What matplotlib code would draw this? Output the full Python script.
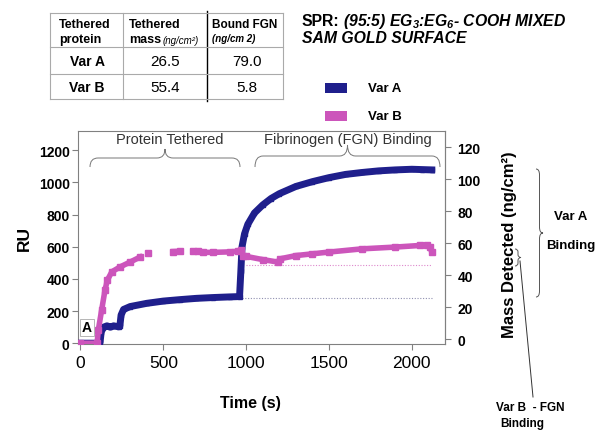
import numpy as np
import matplotlib
matplotlib.use("Agg")
import matplotlib.pyplot as plt
from matplotlib.path import Path
from matplotlib.patches import PathPatch, Rectangle

plt.rcParams['font.family'] = ['Liberation Sans', 'DejaVu Sans']
plt.rcParams['mathtext.fontset'] = 'custom'
plt.rcParams['mathtext.rm'] = 'Liberation Sans:bold:italic'
plt.rcParams['mathtext.it'] = 'Liberation Sans:bold:italic'
plt.rcParams['mathtext.bf'] = 'Liberation Sans:bold:italic'

nan = np.nan

# Var A sensorgram (RU vs time)
time_a = [0, 100, 118, 125, 140, 160, 180, 200, 230, 238, 245, 260, 300, 400, 500,
          600, 700, 800, 900, 960, 968, 975, 990, 1010, 1050, 1100, 1150, 1200,
          1300, 1400, 1500, 1600, 1700, 1800, 1900, 2000, 2060, 2120]
ru_a = [0, 0, 5, 70, 100, 108, 100, 108, 102, 110, 175, 210, 228, 248, 262,
        271, 279, 284, 288, 290, 450, 600, 680, 740, 810, 860, 900, 930,
        975, 1005, 1030, 1050, 1062, 1072, 1078, 1082, 1080, 1078]

# Var B sensorgram (gaps where the trace is broken)
time_b = [0, 100, 108, 128, 148, 162, 189, 240, 300, 360, nan, 410, nan, 560, 600,
          nan, 680, 710, nan, 740, 800, 900, 950, 970, 980, 1000, 1100, 1190, 1205,
          1300, 1400, 1500, 1700, 1900, 2050, 2090, 2110, 2120]
ru_b = [0, 0, 84, 208, 331, 392, 444, 475, 505, 536, nan, 560, nan, 570, 572,
        nan, 575, 575, nan, 565, 565, 568, 572, 580, 545, 540, 520, 505, 525,
        545, 556, 567, 587, 598, 608, 610, 600, 567]

# tethered baselines (RU)
tether_a = 283
tether_b = 489

xticks = [0, 500, 1000, 1500, 2000]
yticks_ru = [0, 200, 400, 600, 800, 1000, 1200]
yticks_mass = [0, 20, 40, 60, 80, 100, 120]

series_names = ['Var A', 'Var B']
table_head = ['Tethered', 'protein', 'Tethered', 'mass', '(ng/cm²)', 'Bound FGN', '(ng/cm 2)']
tethered_mass = ['26.5', '55.4']
bound_fgn = ['79.0', '5.8']

navy = '#1f1f8c'
pink = '#cc55bb'
gray = '#808080'

fig = plt.figure(figsize=(5.98, 4.31), dpi=100)
ax = fig.add_axes([78 / 598, 1 - 345 / 431, 367 / 598, 213 / 431])

ax.plot(time_a, ru_a, color=navy, lw=5, marker='s', ms=3.5, zorder=3)
ax.plot(time_b, ru_b, color=pink, lw=4.0, marker='s', ms=4.5, zorder=4)
ax.hlines(tether_a, 975, 2120, colors='#9090b0', linestyles=(0, (1, 1.5)), lw=0.8, zorder=2)
ax.hlines(tether_b, 1000, 2120, colors='#dd88cc', linestyles=(0, (1, 1.5)), lw=0.8, zorder=2)

ax.set_xlim(-15, 2200)
ax.set_ylim(-5, 1320)
ax.set_xticks(xticks)
ax.set_yticks(yticks_ru)
ax.tick_params(axis='x', labelsize=12.5, colors=gray, labelcolor='black', length=4, pad=4)
ax.tick_params(axis='y', labelsize=10, colors=gray, labelcolor='black', length=4, pad=2)
for lbl in ax.get_yticklabels():
    lbl.set_fontweight('bold')
for s in ax.spines.values():
    s.set_color(gray)
    s.set_linewidth(0.8)

ax.set_xlabel('Time (s)', fontsize=11.5, weight='bold')
ax.xaxis.set_label_coords(0.47, -0.24)
ax.set_ylabel('RU', fontsize=12.5, weight='bold')
ax.yaxis.set_label_coords(-0.125, 0.5)

ax.text(39, 98, 'A', fontsize=10, weight='bold', ha='center', va='center', zorder=6,
        bbox=dict(fc='white', ec='#aaaaaa', lw=0.6, pad=1.2))

ax2 = ax.twinx()
ax2.set_ylim(-3, 130)
ax2.set_yticks(yticks_mass)
ax2.tick_params(axis='y', labelsize=10, colors=gray, labelcolor='black', length=4, pad=5)
for lbl in ax2.get_yticklabels():
    lbl.set_fontweight('bold')
for s in ax2.spines.values():
    s.set_visible(False)
ax2.spines['right'].set_visible(True)
ax2.spines['right'].set_color(gray)
ax2.spines['right'].set_linewidth(0.8)
ax2.set_ylabel('Mass Detected (ng/cm²)', fontsize=12, weight='bold')
ax2.yaxis.set_label_coords(1.155, 0.47)

# overlay in pixel coordinates for the table, legend and annotations
ov = fig.add_axes([0, 0, 1, 1], zorder=10)
ov.set_xlim(0, 598)
ov.set_ylim(431, 0)
ov.axis('off')
ov.patch.set_alpha(0)


def hbrace(x0, x1, y, h, r=8):
    xm = (x0 + x1) / 2
    yc = y - h / 2
    verts = [(x0, y), (x0, yc), (x0 + r, yc), (xm - r, yc), (xm, yc), (xm, y - h),
             (xm, yc), (xm + r, yc), (x1 - r, yc), (x1, yc), (x1, y)]
    codes = [Path.MOVETO, Path.CURVE3, Path.CURVE3, Path.LINETO, Path.CURVE3, Path.CURVE3,
             Path.CURVE3, Path.CURVE3, Path.LINETO, Path.CURVE3, Path.CURVE3]
    ov.add_patch(PathPatch(Path(verts, codes), fc='none', ec='#777777', lw=0.7))


def vbrace(x, y0, y1, w, r=6):
    ym = (y0 + y1) / 2
    xc = x + w / 2
    verts = [(x, y0), (xc, y0), (xc, y0 + r), (xc, ym - r), (xc, ym), (x + w, ym),
             (xc, ym), (xc, ym + r), (xc, y1 - r), (xc, y1), (x, y1)]
    codes = [Path.MOVETO, Path.CURVE3, Path.CURVE3, Path.LINETO, Path.CURVE3, Path.CURVE3,
             Path.CURVE3, Path.CURVE3, Path.LINETO, Path.CURVE3, Path.CURVE3]
    ov.add_patch(PathPatch(Path(verts, codes), fc='none', ec='#555555', lw=0.7))


hbrace(90, 240, 168, 18)
hbrace(255, 440, 168, 22)
ov.text(170, 140, 'Protein Tethered', fontsize=10.5, color='#333333', ha='center', va='center')
ov.text(348, 140, 'Fibrinogen (FGN) Binding', fontsize=10.5, color='#333333', ha='center', va='center')

# right-hand annotations
vbrace(536, 170, 298, 7)
ov.text(571, 217, 'Var A', fontsize=9.5, weight='bold', ha='center', va='center')
ov.text(571, 246, 'Binding', fontsize=9.5, weight='bold', ha='center', va='center')
vbrace(515, 250, 267, 6, r=3)
ov.plot([520, 533], [262, 398], color='#333333', lw=0.7)
ov.text(496, 408, 'Var B  - FGN', fontsize=8.5, weight='bold', ha='left', va='center')
ov.text(500, 424, 'Binding', fontsize=8.5, weight='bold', ha='left', va='center')

# legend
for i, (name, c) in enumerate(zip(series_names, [navy, pink])):
    y = 89 + 28 * i
    ov.add_patch(Rectangle((325, y - 5), 22, 10, fc=c, ec='none'))
    ov.text(368, y, name, fontsize=9.5, weight='bold', ha='left', va='center')

# title
ov.text(302, 26, 'SPR:', fontsize=11.3, weight='bold', ha='left', va='baseline')
ov.text(343, 26, '(95:5) EG$_3$:EG$_6$- COOH MIXED', fontsize=11.3, weight='bold', style='italic',
        ha='left', va='baseline')
ov.text(302, 43, 'SAM GOLD SURFACE', fontsize=11.3, weight='bold', style='italic',
        ha='left', va='baseline')

# table
col_x = [50, 123, 207, 283]
row_y = [14, 48, 75, 100]
for x in [col_x[0], col_x[1], col_x[3]]:
    ov.plot([x, x], [row_y[0], row_y[-1]], color='#aaaaaa', lw=0.8)
ov.plot([col_x[2], col_x[2]], [row_y[0] - 2, row_y[-1] + 2], color='black', lw=1.0)
for y in row_y:
    ov.plot([col_x[0], col_x[-1]], [y, y], color='#aaaaaa', lw=0.8)

ov.text(59, 28, table_head[0], fontsize=9, weight='bold', va='baseline')
ov.text(59, 43, table_head[1], fontsize=9, weight='bold', va='baseline')
ov.text(129, 28, table_head[2], fontsize=9, weight='bold', va='baseline')
mass_txt = ov.text(129, 43, table_head[3], fontsize=9, weight='bold', va='baseline')
ov.annotate(table_head[4], xy=(1, 0), xycoords=mass_txt, xytext=(1, 0),
            textcoords='offset points', fontsize=7, style='italic', va='bottom')
ov.text(212, 28, table_head[5], fontsize=8.5, weight='bold', va='baseline')
ov.text(212, 42, table_head[6], fontsize=7, style='italic', weight='bold', va='baseline')

for i, name in enumerate(series_names):
    yc = (row_y[i + 1] + row_y[i + 2]) / 2
    ov.text(87, yc, name, fontsize=10, weight='bold', ha='center', va='center')
    ov.text(165, yc, tethered_mass[i], fontsize=11, ha='center', va='center')
    ov.text(247, yc, bound_fgn[i], fontsize=11, ha='center', va='center')

fig.savefig('out.png', dpi=100)
